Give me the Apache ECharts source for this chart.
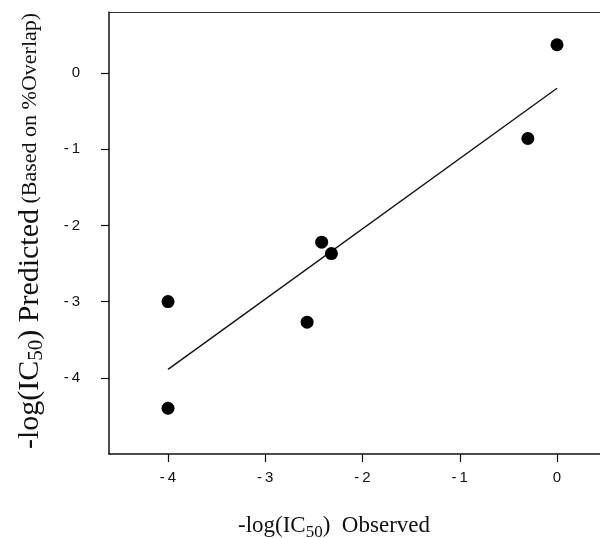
<!DOCTYPE html>
<html>
<head>
<meta charset="utf-8">
<script src="https://cdn.jsdelivr.net/npm/echarts@6/dist/echarts.min.js"></script>
<style>
html,body{margin:0;padding:0;background:#fff;}
#chart{width:600px;height:538px;}
</style>
</head>
<body>
<div id="chart"></div>
<script>
// Data
const observed  = [0.0, -0.30, -2.42, -2.32, -4.0, -4.0, -2.57];
const predicted = [0.37, -0.86, -2.22, -2.37, -3.0, -4.40, -3.27];
const fitX = [-4.0, 0.0];
const fitY = [-3.89, -0.20];
const xTicks = [-4, -3, -2, -1, 0];
const yTicks = [-4, -3, -2, -1, 0];

const points = observed.map((x, i) => [x, predicted[i]]);
const fitLine = fitX.map((x, i) => [x, fitY[i]]);

const serif = '"Liberation Serif", "Times New Roman", serif';
const sans = '"Liberation Sans", Arial, sans-serif';
const ink = '#111';
const fmt = v => (v < 0 ? '-\u2009' + Math.abs(v) : String(v));

const chart = echarts.init(document.getElementById('chart'), null, {renderer: 'canvas'});
chart.setOption({
  backgroundColor: '#fff',
  animation: false,
  grid: {left: 109, right: 0, top: 12, bottom: 84, containLabel: false},
  xAxis: [{
    type: 'value', min: -4.607, max: 0.442, position: 'bottom',
    splitLine: {show: false},
    axisLine: {show: true, onZero: false, lineStyle: {color: ink, width: 1.5}},
    axisTick: {show: true, length: 8, inside: false, customValues: xTicks, lineStyle: {color: ink, width: 1.2}},
    axisLabel: {show: true, margin: 16, customValues: xTicks, formatter: fmt, fontFamily: sans, fontSize: 15, color: ink}
  }, {
    type: 'value', min: -4.607, max: 0.442, position: 'top',
    splitLine: {show: false},
    axisLine: {show: true, onZero: false, lineStyle: {color: '#333', width: 1.2}},
    axisTick: {show: false}, axisLabel: {show: false}
  }],
  yAxis: {
    type: 'value', min: -5, max: 0.8,
    splitLine: {show: false},
    axisLine: {show: true, onZero: false, lineStyle: {color: ink, width: 1.5}},
    axisTick: {show: true, length: 8, inside: false, customValues: yTicks, lineStyle: {color: ink, width: 1.2}},
    axisLabel: {show: true, margin: 29, customValues: yTicks, formatter: fmt, fontFamily: sans, fontSize: 15, color: ink}
  },
  series: [{
    type: 'line', data: fitLine, showSymbol: false, symbol: 'none',
    lineStyle: {color: ink, width: 1.4}, silent: true, z: 2
  }, {
    type: 'scatter', data: points, symbol: 'circle', symbolSize: 13,
    itemStyle: {color: '#000', opacity: 1}, z: 3
  }],
  graphic: [{
    type: 'text', x: 30, y: 231, rotation: Math.PI / 2,
    style: {
      text: '{b|-log(IC}{s|50}{b|) Predicted}{m| (Based on %Overlap)}',
      align: 'center', verticalAlign: 'middle', fill: ink,
      rich: {
        b: {fontFamily: serif, fontSize: 30, lineHeight: 34, fill: ink},
        s: {fontFamily: serif, fontSize: 21, lineHeight: 20, verticalAlign: 'bottom', fill: ink},
        m: {fontFamily: serif, fontSize: 22, lineHeight: 34, fill: ink}
      }
    }
  }, {
    type: 'text', x: 238, y: 526,
    style: {
      text: '{b|-log(IC}{s|50}{b|)  Observed}',
      align: 'left', verticalAlign: 'middle', fill: ink,
      rich: {
        b: {fontFamily: serif, fontSize: 23, lineHeight: 30, fill: ink},
        s: {fontFamily: serif, fontSize: 17, lineHeight: 17, verticalAlign: 'bottom', fill: ink}
      }
    }
  }]
});
</script>
</body>
</html>
